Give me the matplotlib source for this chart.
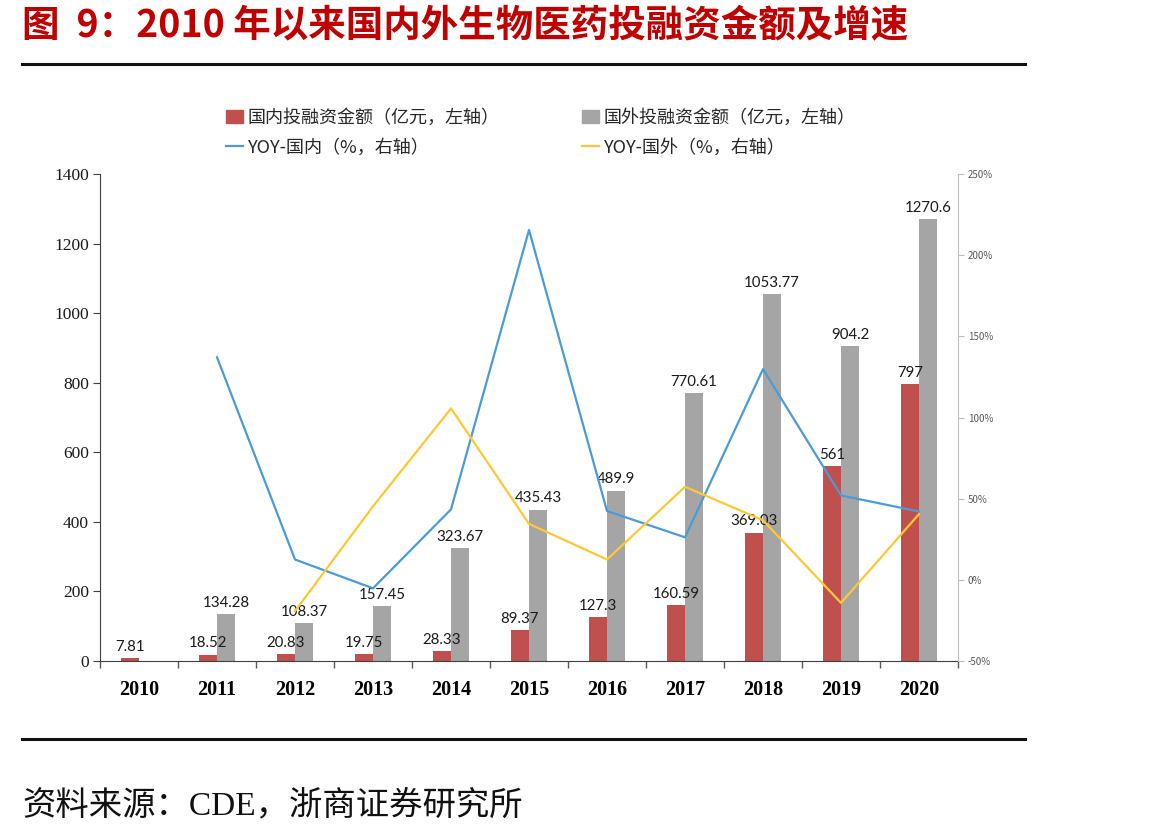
import matplotlib
matplotlib.use("Agg")
import matplotlib.pyplot as plt
import numpy as np
from matplotlib.patches import Patch
from matplotlib.lines import Line2D
from matplotlib.ticker import FuncFormatter, MultipleLocator

plt.rcParams['font.family'] = ['Noto Sans CJK SC', 'DejaVu Sans']

years = ['2010', '2011', '2012', '2013', '2014', '2015', '2016', '2017', '2018', '2019', '2020']
domestic = [7.81, 18.52, 20.83, 19.75, 28.33, 89.37, 127.3, 160.59, 369.03, 561, 797]
domestic_labels = ['7.81', '18.52', '20.83', '19.75', '28.33', '89.37', '127.3', '160.59', '369.03', '561', '797']
foreign = [np.nan, 134.28, 108.37, 157.45, 323.67, 435.43, 489.9, 770.61, 1053.77, 904.2, 1270.6]
foreign_labels = ['', '134.28', '108.37', '157.45', '323.67', '435.43', '489.9', '770.61', '1053.77', '904.2', '1270.6']
yoy_domestic = [np.nan, 137.1, 12.5, -5.2, 43.4, 215.5, 42.4, 26.2, 129.8, 52.0, 42.1]
yoy_foreign = [np.nan, np.nan, -19.3, 45.3, 105.6, 34.5, 12.5, 57.3, 36.7, -14.2, 40.5]

RED = '#C0504D'
GRAY = '#A5A5A5'
BLUE = '#4A9BD6'
YELLOW = '#FFC832'

fig = plt.figure(figsize=(11.51, 8.39), dpi=100)
ax = fig.add_axes([100/1151, 1-661/839, (958-100)/1151, (661-174)/839])
ax2 = ax.twinx()

x = np.arange(len(years))
w = 0.235
ax.bar(x - w/2, domestic, width=w, color=RED, zorder=2)
ax.bar(x + w/2, foreign, width=w, color=GRAY, zorder=2)

lab_font = dict(family=['Lato', 'DejaVu Sans'], fontsize=10.8, color='#1a1a1a')
for i in range(len(years)):
    ax.annotate(domestic_labels[i], (x[i] - w/2, domestic[i]), xytext=(0, 3),
                textcoords='offset points', ha='center', va='bottom', zorder=5, **lab_font)
    if foreign_labels[i]:
        ax.annotate(foreign_labels[i], (x[i] + w/2, foreign[i]), xytext=(0, 3),
                    textcoords='offset points', ha='center', va='bottom', zorder=5, **lab_font)

ax2.plot(x, yoy_domestic, color=BLUE, lw=1.6, zorder=3)
ax2.plot(x, yoy_foreign, color=YELLOW, lw=1.6, zorder=3)

ax.set_xlim(-0.5, len(years) - 0.5)
ax.set_ylim(0, 1400)
ax.yaxis.set_major_locator(MultipleLocator(200))
ax2.set_ylim(-50, 250)
ax2.yaxis.set_major_locator(MultipleLocator(50))
ax2.yaxis.set_major_formatter(FuncFormatter(lambda v, p: f'{int(v)}%'))

ax.set_xticks(x)
ax.set_xticklabels(years, family=['Liberation Serif'], fontweight='bold', fontsize=14.5)
ax.set_xticks(np.arange(-0.5, len(years)), minor=True)
ax.tick_params(axis='x', which='major', length=0, pad=14)
ax.tick_params(axis='x', which='minor', length=5, direction='out', color='#595959', width=1)

for lbl in ax.get_yticklabels():
    lbl.set_family(['Liberation Serif'])
ax.tick_params(axis='y', labelsize=12.5, length=5, direction='out', color='#404040', labelcolor='#1a1a1a', pad=3)
ax2.tick_params(axis='y', labelsize=7, length=4, direction='out', color='#bfbfbf', labelcolor='#595959', pad=3)

for a in (ax, ax2):
    a.spines['top'].set_visible(False)
ax.spines['left'].set_color('#404040')
ax.spines['bottom'].set_color('#404040')
ax.spines['right'].set_visible(False)
ax2.spines['left'].set_visible(False)
ax2.spines['bottom'].set_visible(False)
ax2.spines['right'].set_color('#bfbfbf')
ax.set_zorder(ax2.get_zorder() - 1)
ax.patch.set_visible(False)
ax2.patch.set_visible(False)

handles = [Patch(color=RED), Line2D([], [], color=BLUE, lw=1.6),
           Patch(color=GRAY), Line2D([], [], color=YELLOW, lw=1.6)]
labels = ['国内投融资金额（亿元，左轴）', 'YOY-国内（%，右轴）',
          '国外投融资金额（亿元，左轴）', 'YOY-国外（%，右轴）']
fig.legend(handles, labels, ncol=2, loc='upper left', bbox_to_anchor=(226/1151, 1-109/839),
           frameon=False, fontsize=13, handlelength=0.95, handletextpad=0.25,
           columnspacing=4.55, labelspacing=0.63, borderpad=0, borderaxespad=0,
           labelcolor='#262626')

fig.text(22/1151, 1-26/839, '图  9：2010 年以来国内外生物医药投融资金额及增速', color='#C00000',
         fontsize=27, fontweight='bold', ha='left', va='center')
fig.add_artist(Line2D([22/1151, 1025/1151], [1-64/839, 1-64/839], color='#111111', lw=2.2))
fig.add_artist(Line2D([22/1151, 1025/1151], [1-739/839, 1-739/839], color='#111111', lw=2.2))
fig.text(22/1151, 1-806/839, '资料来源：CDE，浙商证券研究所', color='#111111',
         family=['Liberation Serif', 'Noto Sans CJK SC'],
         fontsize=24, ha='left', va='center')

fig.savefig('out.png', dpi=100)
